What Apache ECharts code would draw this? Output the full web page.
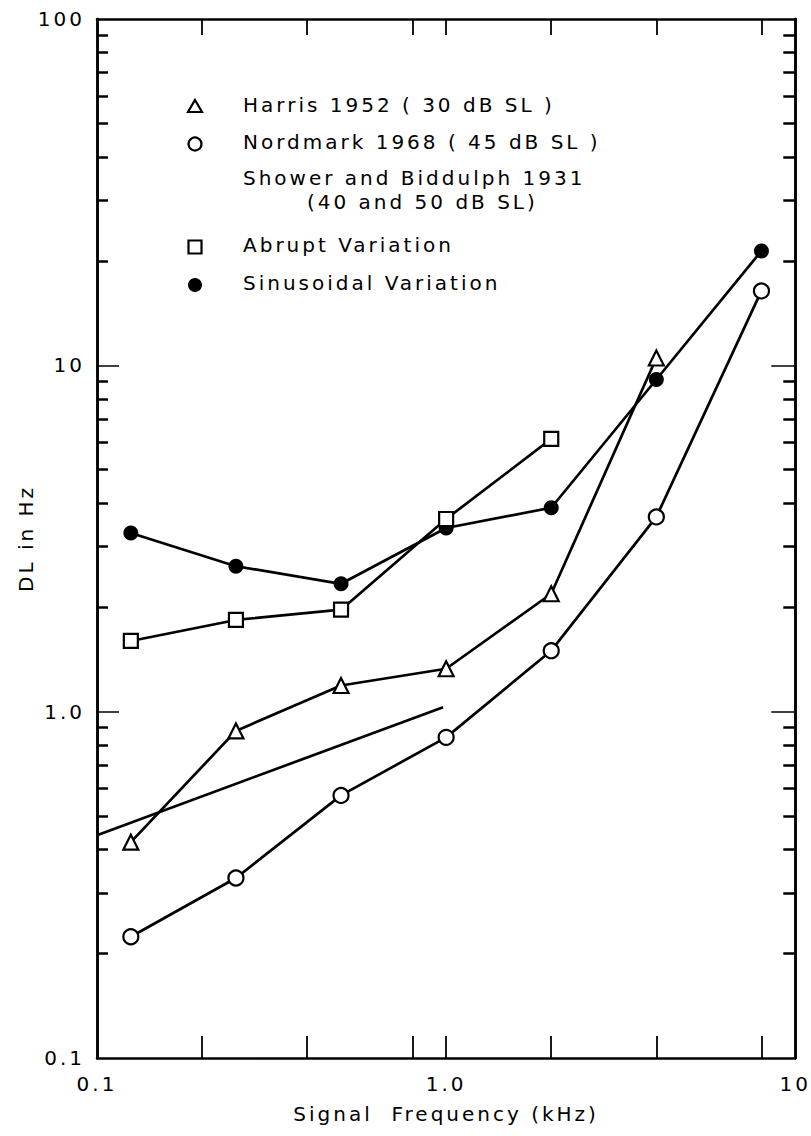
<!DOCTYPE html>
<html>
<head>
<meta charset="utf-8">
<script src="https://cdn.jsdelivr.net/npm/echarts@6/dist/echarts.min.js"></script>
<style>
  html, body { margin: 0; padding: 0; background: #fff; }
  #chart { width: 811px; height: 1136px; }
  #chart text { letter-spacing: 3px; white-space: pre; }
</style>
</head>
<body>
<div id="chart"></div>
<script>
// Signal frequency in kHz (octave steps)
const freqs = [0.125, 0.25, 0.5, 1, 2, 4, 8];

// Difference limen (Hz) per study
const harris = [0.42, 0.88, 1.19, 1.33, 2.19, 10.5];            // 0.125 .. 4 kHz
const nordmark = [0.224, 0.331, 0.573, 0.843, 1.50, 3.65, 16.4]; // 0.125 .. 8 kHz
const showerFreq = [0.1, 0.98];
const shower = [0.44, 1.03];
const abrupt = [1.60, 1.84, 1.97, 3.60, 6.13];                    // 0.125 .. 2 kHz
const sinusoidal = [3.28, 2.63, 2.34, 3.39, 3.88, 9.1, 21.4];     // 0.125 .. 8 kHz

// Axis ticks and labels
const xTicks = [0.2, 0.4, 0.8, 1, 2, 4, 8];
const xLabelValues = [0.1, 1, 10];
const xLabelText = ['0.1', '1.0', '10'];
const yLabelValues = [0.1, 1, 10, 100];
const yLabelText = ['0.1', '1.0', '10', '100'];
const yMajorTicks = [1, 10];
const yMinorTicks = [0.2, 0.3, 0.4, 0.5, 0.6, 0.7, 0.8, 0.9,
                     2, 3, 4, 5, 6, 7, 8, 9,
                     20, 30, 40, 50, 60, 70, 80, 90];

// Legend entries
const legendNames = [
  'Harris 1952 ( 30 dB SL )',
  'Nordmark 1968 ( 45 dB SL )',
  'Shower and Biddulph 1931',
  '(40 and 50 dB SL)',
  'Abrupt Variation',
  'Sinusoidal Variation'
];

const FONT = '"DejaVu Sans", sans-serif';
const INK = '#000';
const LINE_W = 2.7;

const pairs = (xs, ys) => ys.map((v, i) => [xs[i], v]);
const labelFor = (values, texts) => v => {
  let best = 0;
  values.forEach((c, i) => {
    if (Math.abs(Math.log10(c) - Math.log10(v)) < Math.abs(Math.log10(values[best]) - Math.log10(v))) best = i;
  });
  return texts[best];
};

const axisLine = { show: true, onZero: false, lineStyle: { color: INK, width: 2.5 } };

function xAxisDef(position, tickLen, showLabels) {
  return {
    type: 'log', logBase: 10, min: 0.1, max: 10, position,
    axisLine,
    axisTick: { show: true, inside: true, length: tickLen, customValues: xTicks,
                lineStyle: { color: INK, width: 1.8 } },
    minorTick: { show: false },
    splitLine: { show: false },
    axisLabel: showLabels ? {
      show: true, customValues: xLabelValues, formatter: labelFor(xLabelValues, xLabelText),
      margin: 16, color: INK, fontSize: 20, fontFamily: FONT
    } : { show: false },
    name: showLabels ? 'Signal  Frequency (kHz)' : '',
    nameLocation: 'middle', nameGap: 46,
    nameTextStyle: { color: INK, fontSize: 20, fontFamily: FONT }
  };
}

function yAxisDef(position, ticks, tickLen, tickWidth, showLabels) {
  return {
    type: 'log', logBase: 10, min: 0.1, max: 100, position,
    axisLine,
    axisTick: { show: true, inside: true, length: tickLen, customValues: ticks,
                lineStyle: { color: INK, width: tickWidth } },
    minorTick: { show: false },
    splitLine: { show: false },
    axisLabel: showLabels ? {
      show: true, customValues: yLabelValues, formatter: labelFor(yLabelValues, yLabelText),
      margin: 12, color: INK, fontSize: 20, fontFamily: FONT
    } : { show: false },
    name: showLabels ? 'DL in Hz' : '',
    nameLocation: 'middle', nameGap: 50,
    nameTextStyle: { color: INK, fontSize: 20, fontFamily: FONT }
  };
}

function markerSeries(name, data, symbol, size, filled) {
  return {
    name, type: 'line', xAxisIndex: 0, yAxisIndex: 0, data,
    symbol, symbolSize: size, showAllSymbol: true,
    lineStyle: { color: INK, width: LINE_W },
    itemStyle: { color: filled ? INK : '#fff', borderColor: INK, borderWidth: filled ? 0 : 2.2 },
    emphasis: { disabled: true },
    z: 3
  };
}

// Legend glyphs and captions
const legendX = 195, textX = 243;
const rowY = [107, 144, 180, 204, 247, 285];
const glyphStyle = { fill: '#fff', stroke: INK, lineWidth: 2.2 };
const graphic = [
  { type: 'polygon', shape: { points: [[legendX, rowY[0] - 7], [legendX + 7, rowY[0] + 5], [legendX - 7, rowY[0] + 5]] }, style: glyphStyle },
  { type: 'circle', shape: { cx: legendX, cy: rowY[1], r: 6.5 }, style: glyphStyle },
  { type: 'rect', shape: { x: legendX - 6.5, y: rowY[4] - 6.5, width: 13, height: 13 }, style: glyphStyle },
  { type: 'circle', shape: { cx: legendX, cy: rowY[5], r: 7 }, style: { fill: INK } }
];
legendNames.forEach((t, i) => {
  graphic.push({
    type: 'text', left: i === 3 ? 307 : textX, top: rowY[i] - 12,
    style: { text: t, fill: INK, font: '20px ' + FONT }
  });
});

const chart = echarts.init(document.getElementById('chart'), null, { renderer: 'svg' });
chart.setOption({
  animation: false,
  backgroundColor: '#fff',
  grid: { left: 97, right: 14, top: 19, bottom: 78, containLabel: false },
  xAxis: [xAxisDef('bottom', 22, true), xAxisDef('top', 16, false)],
  yAxis: [
    yAxisDef('left', yMajorTicks, 22, 1.5, true),
    yAxisDef('left', yMinorTicks, 11, 2.5, false),
    yAxisDef('right', yMajorTicks, 24, 1.5, false),
    yAxisDef('right', yMinorTicks, 12, 2.5, false)
  ],
  series: [
    {
      name: 'Shower and Biddulph 1931', type: 'line', xAxisIndex: 0, yAxisIndex: 0,
      data: pairs(showerFreq, shower), symbol: 'none',
      lineStyle: { color: INK, width: LINE_W }, z: 2
    },
    markerSeries('Nordmark 1968', pairs(freqs, nordmark), 'circle', 15, false),
    markerSeries('Sinusoidal Variation', pairs(freqs, sinusoidal), 'circle', 15, true),
    markerSeries('Harris 1952', pairs(freqs, harris), 'triangle', 15, false),
    markerSeries('Abrupt Variation', pairs(freqs, abrupt), 'rect', 14, false)
  ],
  graphic
});
</script>
</body>
</html>
